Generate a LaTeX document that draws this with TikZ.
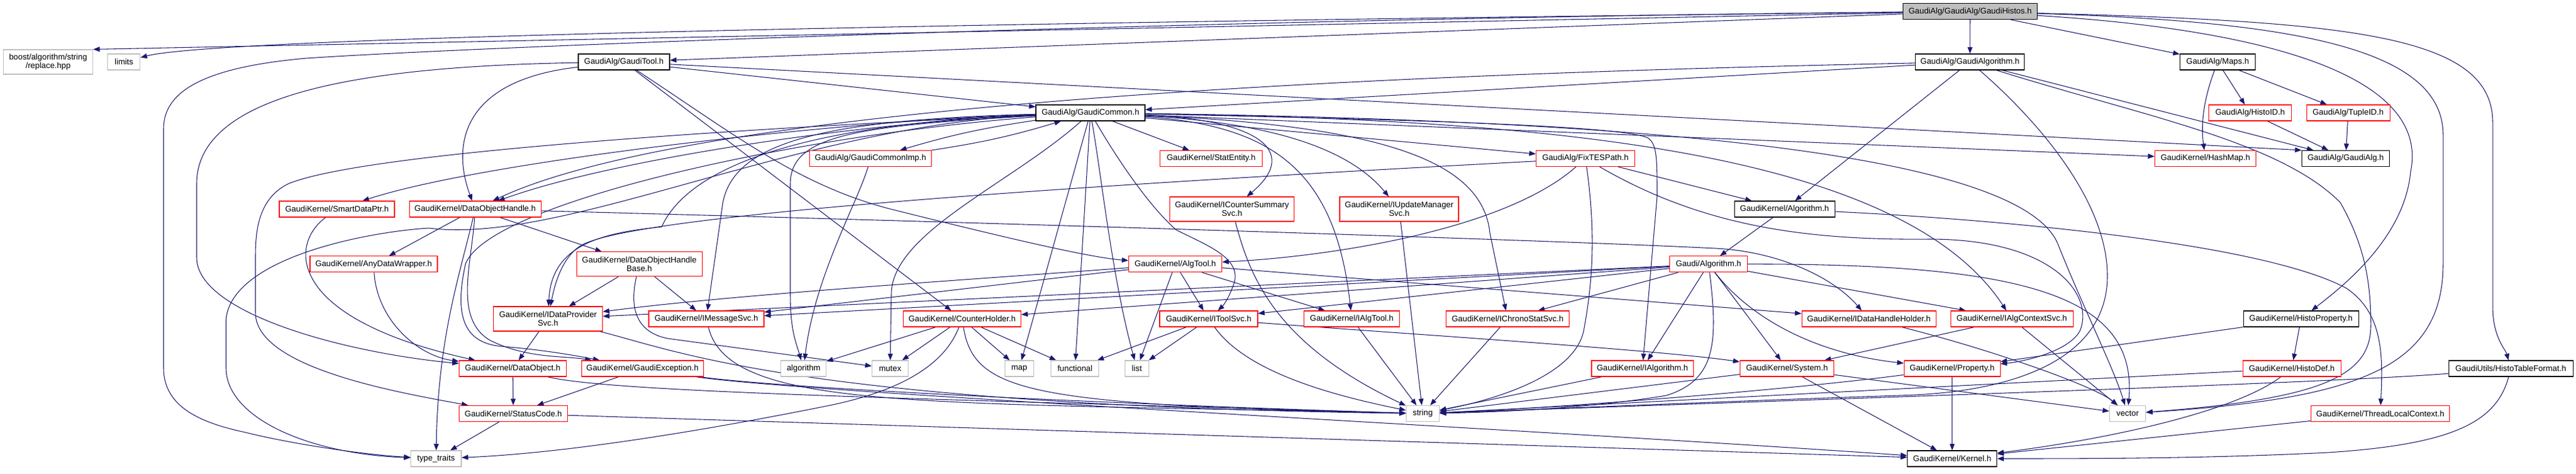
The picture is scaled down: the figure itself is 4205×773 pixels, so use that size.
\documentclass[tikz,border=0pt]{standalone}
\usepackage{fontspec}
\setmainfont{Liberation Sans}
\usetikzlibrary{arrows.meta}
\definecolor{edgec}{RGB}{25,25,112}
\definecolor{graybd}{RGB}{191,191,191}
\definecolor{rootfill}{RGB}{191,191,191}
\pgfdeclarelayer{bg}
\pgfsetlayers{bg,main}
\newcommand\gn[7]{\node[#6, minimum width=#4*0.75pt, minimum height=#5*0.75pt] (#1) at (#2,#3) {#7};}
\tikzset{
  gbox/.style={rectangle, draw, line width=0.8pt, inner sep=0pt, align=center, fill=white, text=black,
    font=\fontsize{10pt}{10.8pt}\selectfont},
  rb/.style={gbox, draw={rgb,255:red,255;green,0;blue,0}},
  kb/.style={gbox, draw=black},
  gb/.style={gbox, draw=graybd},
  rootb/.style={gbox, draw=black, fill=rootfill},
  dep/.style={draw=edgec, line width=0.8pt, -{Triangle[length=8pt,width=6pt]}}
}
\begin{document}
\begin{tikzpicture}[x=0.75pt,y=-0.75pt]
\useasboundingbox (0,0) rectangle (4205,773);
\begin{pgfonlayer}{bg}
\fill[white] (0,0) rectangle (4205,773);
\end{pgfonlayer}
% ---------------- nodes
\gn{H}{3216}{18.7}{219}{26}{rootb}{GaudiAlg/GaudiAlg/GaudiHistos.h}
\gn{boost}{78.5}{101}{146}{40}{gb}{boost/algorithm/string\\/replace.hpp}
\gn{limits}{202.4}{101}{53}{26}{gb}{limits}
\gn{GT}{1018.5}{101}{149}{26}{kb}{GaudiAlg/GaudiTool.h}
\gn{GA}{3215.7}{101}{178}{26}{kb}{GaudiAlg/GaudiAlgorithm.h}
\gn{Maps}{3620}{101}{123}{26}{kb}{GaudiAlg/Maps.h}
\gn{GC}{1780}{184}{178}{26}{kb}{GaudiAlg/GaudiCommon.h}
\gn{HID}{3673}{184}{135}{26}{rb}{GaudiAlg/HistoID.h}
\gn{TID}{3833}{184}{136}{26}{rb}{GaudiAlg/TupleID.h}
\gn{GCI}{1421}{258.5}{199}{26}{rb}{GaudiAlg/GaudiCommonImp.h}
\gn{SE}{1977}{258.5}{167}{26}{rb}{GaudiKernel/StatEntity.h}
\gn{FTP}{2588}{258.5}{161}{26}{rb}{GaudiAlg/FixTESPath.h}
\gn{HM}{3600}{258.5}{165}{26}{rb}{GaudiKernel/HashMap.h}
\gn{GAlg}{3829}{258.5}{143}{26}{kb}{GaudiAlg/GaudiAlg.h}
\gn{SDP}{550}{341}{188}{26}{rb}{GaudiKernel/SmartDataPtr.h}
\gn{DOH}{775.6}{341}{215}{26}{rb}{GaudiKernel/DataObjectHandle.h}
\gn{ICSS}{2011}{341}{203}{40}{rb}{GaudiKernel/ICounterSummary\\Svc.h}
\gn{IUMS}{2284}{341}{194}{40}{rb}{GaudiKernel/IUpdateManager\\Svc.h}
\gn{KAlg}{2913}{341}{164}{26}{kb}{GaudiKernel/Algorithm.h}
\gn{ADW}{610}{430.8}{208}{26}{rb}{GaudiKernel/AnyDataWrapper.h}
\gn{DOHB}{1043.6}{430.8}{205}{40}{rb}{GaudiKernel/DataObjectHandle\\Base.h}
\gn{AT}{1918.5}{430.8}{152}{26}{rb}{GaudiKernel/AlgTool.h}
\gn{GAl}{2789}{430.8}{127}{26}{rb}{Gaudi/Algorithm.h}
\gn{IDPS}{894.5}{520}{178}{40}{rb}{GaudiKernel/IDataProvider\\Svc.h}
\gn{IMS}{1153}{520}{188}{26}{rb}{GaudiKernel/IMessageSvc.h}
\gn{CH}{1570.5}{520}{192}{26}{rb}{GaudiKernel/CounterHolder.h}
\gn{ITS}{1973}{520}{160}{26}{rb}{GaudiKernel/IToolSvc.h}
\gn{IAT}{2206.6}{520}{156}{26}{rb}{GaudiKernel/IAlgTool.h}
\gn{ICSt}{2461}{520}{201.5}{26}{rb}{GaudiKernel/IChronoStatSvc.h}
\gn{IDHH}{3050.7}{520}{219}{26}{rb}{GaudiKernel/IDataHandleHolder.h}
\gn{IACS}{3284}{520}{200}{26}{rb}{GaudiKernel/IAlgContextSvc.h}
\gn{HP}{3756}{520}{188}{26}{kb}{GaudiKernel/HistoProperty.h}
\gn{DO}{837}{601}{175}{26}{rb}{GaudiKernel/DataObject.h}
\gn{GE}{1048.7}{601}{199}{26}{rb}{GaudiKernel/GaudiException.h}
\gn{algo}{1311.7}{601}{74}{26}{gb}{algorithm}
\gn{mutex}{1453}{601}{59}{26}{gb}{mutex}
\gn{map}{1663.7}{601}{47}{26}{gb}{map}
\gn{functional}{1754.8}{601}{78}{26}{gb}{functional}
\gn{list}{1855.8}{601}{38.5}{26}{gb}{list}
\gn{IA}{2681}{601}{166}{26}{rb}{GaudiKernel/IAlgorithm.h}
\gn{Sys}{2917}{601}{153.5}{26}{rb}{GaudiKernel/System.h}
\gn{Prop}{3186.5}{601}{157}{26}{rb}{GaudiKernel/Property.h}
\gn{HD}{3741}{601}{160}{26}{rb}{GaudiKernel/HistoDef.h}
\gn{HTF}{4098.5}{601}{203}{26}{kb}{GaudiUtils/HistoTableFormat.h}
\gn{SC}{838}{674.5}{177.5}{26}{rb}{GaudiKernel/StatusCode.h}
\gn{string}{2322.4}{674.5}{54}{26}{gb}{string}
\gn{vector}{3473}{674.5}{59}{26}{gb}{vector}
\gn{TLC}{3885.4}{674.5}{226}{26}{rb}{GaudiKernel/ThreadLocalContext.h}
\gn{tt}{711.8}{748}{82.4}{26}{gb}{type\_traits}
\gn{Kern}{3186.7}{748}{146}{26}{kb}{GaudiKernel/Kernel.h}
% ---------------- edges
\begin{pgfonlayer}{bg}
% GaudiHistos
\draw[dep] (H) -- (boost.north east);
\draw[dep] (H) .. controls (1500,38) and (350,62) .. (limits);
\draw[dep] (H) .. controls (2000,30) and (800,75) .. (500,95) .. controls (330,110) and (267,150) .. (267,210) -- (267,600) .. controls (267,665) and (330,690) .. (400,705) .. controls (480,725) and (600,742) .. (tt);
\draw[dep] (H) -- (GT);
\draw[dep] (H) -- (GA);
\draw[dep] (H) -- (Maps);
\draw[dep] (H) .. controls (3650,45) and (3970,110) .. (3935,280) .. controls (3925,390) and (3820,470) .. (HP);
\draw[dep] (H) .. controls (3850,35) and (4069,60) .. (4069,200) -- (4069,500) .. controls (4069,550) and (4090,570) .. (HTF);
\draw[dep] (H) .. controls (3750,35) and (3988,80) .. (3988,220) -- (3988,430) .. controls (3988,600) and (3850,650) .. (vector);
% GaudiTool
\draw[dep] (GT) -- (GC);
\draw[dep] (GT) -- (GAlg.north west);
\draw[dep] (GT) .. controls (760,130) and (735,230) .. (DOH);
\draw[dep] (GT) .. controls (600,108) and (321,150) .. (321,300) -- (321,420) .. controls (321,510) and (560,575) .. (DO);
\draw[dep] (GT) -- (CH);
\draw[dep] (GT) .. controls (1200,220) and (1300,300) .. (1450,340) .. controls (1650,390) and (1780,420) .. (AT);
% GaudiAlgorithm
\draw[dep] (GA) -- (GC);
\draw[dep] (GA) .. controls (2300,120) and (1150,165) .. (DOH);
\draw[dep] (GA) -- (KAlg);
\draw[dep] (GA) -- (GAlg);
\draw[dep] (GA) .. controls (3500,190) and (3720,230) .. (3820,330) .. controls (3860,400) and (3870,460) .. (3870,530) .. controls (3870,610) and (3800,650) .. (vector);
\draw[dep] (GA) .. controls (3330,200) and (3440,330) .. (3440,450) .. controls (3440,580) and (3300,640) .. (3100,645) .. controls (2800,655) and (2500,668) .. (string);
% Maps
\draw[dep] (Maps) -- (HID);
\draw[dep] (Maps) -- (TID);
\draw[dep] (Maps) .. controls (3598,160) and (3592,200) .. (HM);
\draw[dep] (HID) -- (GAlg);
\draw[dep] (TID) -- (GAlg);
% GaudiCommon
\draw[dep] (GC) to[bend right=4] (GCI);
\draw[dep] (GCI) to[bend right=4] (GC);
\draw[dep] (GC) -- (SE);
\draw[dep] (GC) .. controls (2050,195) and (2125,245) .. (ICSS);
\draw[dep] (GC) .. controls (2070,200) and (2200,240) .. (IUMS);
\draw[dep] (GC) -- (FTP);
\draw[dep] (GC) -- (HM);
\draw[dep] (GC) .. controls (1400,195) and (800,260) .. (SDP);
\draw[dep] (GC) .. controls (1400,200) and (1000,260) .. (DOH);
\draw[dep] (GC) .. controls (1350,200) and (1130,260) .. (1080,370) .. controls (980,380) and (900,400) .. (IDPS);
\draw[dep] (GC) .. controls (1350,195) and (1200,230) .. (1180,330) -- (IMS);
\draw[dep] (GC) .. controls (1300,220) and (800,330) .. (760,430) .. controls (740,520) and (760,560) .. (820,565) .. controls (880,570) and (930,578) .. (GE);
\draw[dep] (GC) .. controls (1300,205) and (600,245) .. (470,300) .. controls (420,325) and (417,380) .. (417,420) -- (417,510) .. controls (417,600) and (650,640) .. (SC);
\draw[dep] (GC) .. controls (1400,205) and (1290,220) .. (1290,300) -- (1290,480) .. controls (1290,540) and (1300,560) .. (algo);
\draw[dep] (GC) .. controls (1650,300) and (1455,380) .. (1455,480) -- (mutex);
\draw[dep] (GC) -- (map);
\draw[dep] (GC) -- (functional);
\draw[dep] (GC) .. controls (1800,300) and (1815,450) .. (list);
\draw[dep] (GC) .. controls (1830,270) and (1880,340) .. (1920,375) .. controls (1970,400) and (2025,420) .. (2015,460) .. controls (2005,490) and (1995,500) .. (ITS);
\draw[dep] (GC) .. controls (2080,205) and (2180,280) .. (IAT);
\draw[dep] (GC) .. controls (2250,205) and (2420,260) .. (2432,380) -- (ICSt);
\draw[dep] (GC) .. controls (2300,195) and (2650,205) .. (2690,225) .. controls (2705,235) and (2705,260) .. (2705,320) -- (IA);
\draw[dep] (GC) .. controls (2500,195) and (3100,240) .. (IACS);
\draw[dep] (GC) .. controls (2600,195) and (3300,240) .. (3360,400) .. controls (3400,500) and (3450,600) .. (vector);
\draw[dep] (GC) .. controls (1300,205) and (920,400) .. (700,372) .. controls (600,378) and (380,420) .. (369,520) -- (369,600) .. controls (369,680) and (500,740) .. (tt);
% GaudiCommonImp
\draw[dep] (GCI) .. controls (1400,330) and (1330,450) .. (algo);
% FixTESPath
\draw[dep] (FTP) -- (KAlg);
\draw[dep] (FTP) .. controls (2450,380) and (2150,420) .. (AT);
\draw[dep] (FTP) .. controls (2605,380) and (2600,460) .. (2585,540) .. controls (2570,610) and (2450,650) .. (string);
\draw[dep] (FTP) .. controls (2000,290) and (1100,340) .. (960,395) .. controls (930,405) and (910,440) .. (IDPS);
\draw[dep] (FTP) .. controls (2780,370) and (2950,392) .. (3150,390) .. controls (3350,390) and (3420,480) .. (3395,540) .. controls (3375,575) and (3300,590) .. (Prop);
% GaudiKernel/Algorithm.h
\draw[dep] (KAlg) -- (GAl);
\draw[dep] (KAlg) .. controls (3300,360) and (3700,400) .. (3830,470) .. controls (3890,510) and (3890,580) .. (TLC);
% DataObjectHandle
\draw[dep] (DOH) -- (ADW);
\draw[dep] (DOH) -- (DOHB);
\draw[dep] (DOH) .. controls (750,450) and (715,550) .. (tt);
\draw[dep] (DOH) .. controls (770,430) and (740,520) .. (800,555) .. controls (860,585) and (920,580) .. (GE);
\draw[dep] (DOH) .. controls (1500,360) and (2500,390) .. (2800,405) .. controls (2900,410) and (2990,450) .. (IDHH);
% lower left group
\draw[dep] (ADW) .. controls (615,520) and (680,580) .. (DO);
\draw[dep] (SDP) .. controls (470,400) and (470,520) .. (DO);
\draw[dep] (IDPS) -- (DO);
\draw[dep] (DOHB) -- (IDPS);
\draw[dep] (DOHB) -- (IMS);
\draw[dep] (DOHB) .. controls (1030,490) and (1030,540) .. (1090,552) -- (mutex);
\draw[dep] (IMS) .. controls (1190,670) and (1500,655) .. (string);
\draw[dep] (IDPS) .. controls (1100,570) and (1300,660) .. (string);
\draw[dep] (DO) .. controls (1000,640) and (1500,650) .. (string);
\draw[dep] (GE) .. controls (1250,630) and (1700,655) .. (string);
\draw[dep] (GE) .. controls (1300,640) and (2500,700) .. (Kern);
\draw[dep] (GE) -- (SC);
\draw[dep] (DO) -- (SC);
\draw[dep] (SC) -- (tt);
\draw[dep] (SC) -- (Kern);
% CounterHolder
\draw[dep] (CH) -- (algo);
\draw[dep] (CH) -- (mutex);
\draw[dep] (CH) -- (map);
\draw[dep] (CH) -- (functional);
\draw[dep] (CH) .. controls (1540,600) and (1460,640) .. (1350,662) .. controls (1100,712) and (900,740) .. (tt);
\draw[dep] (CH) .. controls (1590,640) and (1680,660) .. (string);
% IToolSvc
\draw[dep] (ITS) -- (functional);
\draw[dep] (ITS) -- (list);
\draw[dep] (ITS) .. controls (2030,600) and (2150,640) .. (string);
\draw[dep] (ITS) .. controls (2300,545) and (2700,570) .. (Sys);
% AlgTool
\draw[dep] (AT) .. controls (1600,455) and (1200,480) .. (IDPS);
\draw[dep] (AT) -- (IMS);
\draw[dep] (AT) -- (list);
\draw[dep] (AT) -- (ITS);
\draw[dep] (AT) -- (IAT);
\draw[dep] (AT) -- (IDHH);
% Gaudi/Algorithm.h
\draw[dep] (GAl) -- (IDPS);
\draw[dep] (GAl) -- (IMS);
\draw[dep] (GAl) -- (CH);
\draw[dep] (GAl) -- (ITS);
\draw[dep] (GAl) -- (ICSt);
\draw[dep] (GAl) -- (IA);
\draw[dep] (GAl) .. controls (2805,560) and (2800,620) .. (2720,645) .. controls (2600,665) and (2450,672) .. (string);
\draw[dep] (GAl) .. controls (2850,510) and (2950,575) .. (Prop);
\draw[dep] (GAl) -- (Sys);
\draw[dep] (GAl) -- (IACS);
\draw[dep] (GAl) .. controls (3300,430) and (3490,480) .. (vector);
% remaining
\draw[dep] (IAT) -- (string);
\draw[dep] (ICSt) -- (string);
\draw[dep] (ICSS) .. controls (2040,450) and (2080,560) .. (string);
\draw[dep] (IUMS) -- (string);
\draw[dep] (IDHH) .. controls (3250,570) and (3420,630) .. (vector);
\draw[dep] (IACS) -- (vector);
\draw[dep] (IACS) -- (Sys);
\draw[dep] (IA) -- (string);
\draw[dep] (Sys) -- (string);
\draw[dep] (Sys) -- (vector);
\draw[dep] (Sys) -- (Kern);
\draw[dep] (Prop) .. controls (2950,632) and (2600,662) .. (string);
\draw[dep] (Prop) -- (Kern);
\draw[dep] (HP) -- (HD);
\draw[dep] (HP) -- (Prop);
\draw[dep] (HD) -- (string);
\draw[dep] (HD) .. controls (3650,670) and (3450,715) .. (Kern);
\draw[dep] (HTF) .. controls (3800,625) and (3000,650) .. (string);
\draw[dep] (HTF) .. controls (4075,690) and (4000,725) .. (3800,738) .. controls (3600,748) and (3400,748) .. (Kern);
\draw[dep] (TLC) -- (Kern);
\end{pgfonlayer}
\end{tikzpicture}
\end{document}
